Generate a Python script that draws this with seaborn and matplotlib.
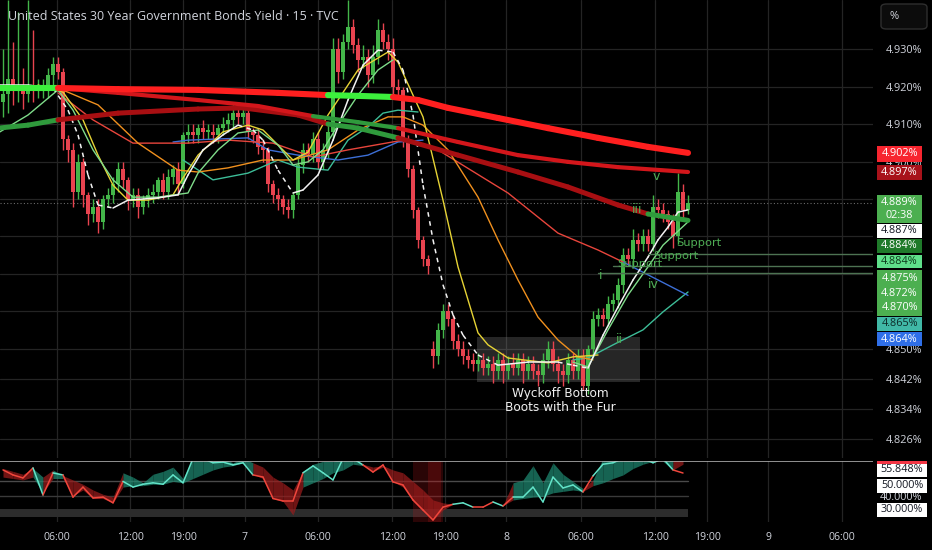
import numpy as np
import matplotlib
matplotlib.use("Agg")
import matplotlib.pyplot as plt
import seaborn as sns
from matplotlib.patches import Rectangle, FancyBboxPatch

W, H = 932, 550

title = "United States 30 Year Government Bonds Yield · 15 · TVC"

# --- 15 min candles (bar index 0..137), yield in % ---
first_open = 4.916
closes = [
    4.918, 4.922, 4.919, 4.920, 4.918, 4.920, 4.919, 4.919, 4.920, 4.923, 4.926, 4.924,
    4.906, 4.903, 4.892, 4.900, 4.891, 4.886, 4.888, 4.884, 4.890, 4.891, 4.894, 4.898,
    4.895, 4.890, 4.891, 4.888, 4.890, 4.891, 4.892, 4.895, 4.892, 4.896, 4.898, 4.894,
    4.907, 4.908, 4.907, 4.909, 4.908, 4.908, 4.907, 4.909, 4.910, 4.911, 4.913, 4.912,
    4.913, 4.908, 4.907, 4.904, 4.903, 4.894, 4.891, 4.890, 4.888, 4.887, 4.891, 4.899,
    4.903, 4.902, 4.906, 4.900, 4.903, 4.908, 4.930, 4.924, 4.932, 4.936, 4.931, 4.927,
    4.928, 4.923, 4.928, 4.935, 4.932, 4.930, 4.920, 4.919, 4.906, 4.898, 4.887, 4.879,
    4.874, 4.872, 4.848, 4.855, 4.860, 4.858, 4.852, 4.850, 4.848, 4.847, 4.846, 4.847,
    4.845, 4.846, 4.844, 4.847, 4.844, 4.846, 4.845, 4.847, 4.844, 4.846, 4.844, 4.843,
    4.847, 4.850, 4.846, 4.844, 4.843, 4.847, 4.844, 4.848, 4.840, 4.850, 4.858, 4.859,
    4.858, 4.862, 4.863, 4.867, 4.875, 4.874, 4.879, 4.878, 4.880, 4.878, 4.888, 4.887,
    4.886, 4.884, 4.880, 4.892, 4.887, 4.889,
]
# wick lengths above / below the body, in thousandths of a percent
wick_up = [
    12, 21, 10, 20, 5, 23, 15, 3, 2, 2, 2, 2,
    1, 1, 2, 2, 1, 1, 2, 2, 1, 2, 2, 2,
    2, 1, 2, 2, 1, 2, 2, 1, 2, 2, 1, 2,
    1, 2, 2, 1, 2, 2, 2, 1, 2, 2, 2, 3,
    2, 2, 1, 2, 2, 1, 1, 2, 1, 2, 1, 2,
    2, 2, 2, 2, 2, 2, 3, 3, 2, 7, 2, 2,
    3, 2, 3, 3, 2, 2, 3, 2, 1, 1, 1, 1,
    1, 1, 2, 2, 2, 2, 1, 2, 2, 2, 2, 2,
    2, 2, 2, 2, 2, 2, 3, 2, 2, 2, 2, 2,
    2, 2, 2, 2, 2, 2, 2, 2, 2, 1, 2, 2,
    2, 2, 2, 2, 2, 2, 3, 2, 2, 2, 3, 2,
    2, 1, 2, 5, 2, 2,
]
wick_dn = [
    4, 5, 4, 3, 4, 2, 3, 2, 2, 3, 3, 2,
    3, 3, 4, 2, 3, 3, 2, 3, 2, 2, 2, 2,
    2, 3, 2, 3, 2, 2, 2, 2, 2, 2, 2, 3,
    1, 2, 2, 2, 2, 2, 2, 2, 2, 2, 2, 2,
    2, 2, 2, 2, 3, 2, 2, 3, 2, 2, 2, 1,
    2, 2, 2, 2, 2, 2, 2, 3, 2, 2, 2, 3,
    2, 3, 2, 2, 2, 3, 3, 2, 2, 2, 2, 2,
    2, 2, 3, 2, 2, 2, 2, 2, 2, 2, 2, 2,
    2, 2, 3, 2, 3, 2, 2, 2, 3, 2, 2, 3,
    2, 2, 2, 3, 3, 2, 2, 2, 1, 2, 2, 2,
    2, 2, 2, 2, 2, 2, 2, 2, 2, 2, 2, 2,
    2, 2, 3, 2, 2, 1,
]
gap_opens = {86: 4.850}

# --- moving averages (bar index, value) ---
ma1_bar = [-1, 11, 23, 39, 55, 65, 71, 78, 83, 89, 99, 109, 119, 129, 137]
ma1_val = [4.9196, 4.9196, 4.9193, 4.9191, 4.9183, 4.9177, 4.9175, 4.9172, 4.9164,
           4.9143, 4.9116, 4.9089, 4.9063, 4.9039, 4.9023]
ma1_up = [1, 0, 0, 0, 0, 1, 1, 0, 0, 0, 0, 0, 0, 0]

maA_bar = [11, 23, 39, 51, 62, 71, 79, 91, 103, 113, 123, 137]
maA_val = [4.9196, 4.9183, 4.9164, 4.9148, 4.9121, 4.9105, 4.9089, 4.9052, 4.9017,
           4.8999, 4.8985, 4.8972]
maA_up = [0, 0, 0, 0, 1, 1, 0, 0, 0, 0, 0]

maB_bar = [-1, 5, 11, 23, 39, 48, 59, 65, 71, 79, 91, 103, 113, 123, 129, 137]
maB_val = [4.9089, 4.9097, 4.9111, 4.9129, 4.9140, 4.9143, 4.9124, 4.9100, 4.9089,
           4.9063, 4.9017, 4.8972, 4.8932, 4.8884, 4.8860, 4.8843]
maB_up = [1, 1, 0, 0, 0, 0, 0, 1, 1, 0, 0, 0, 0, 0, 1]

red_bar = [11, 18, 26, 37, 45, 54, 62, 69, 80, 87, 101, 111, 119, 124]
red_val = [4.9183, 4.9111, 4.9049, 4.9049, 4.9057, 4.9049, 4.9012, 4.9031, 4.9057,
           4.9031, 4.8916, 4.8809, 4.8764, 4.8732]

blue_bar = [34, 37, 49, 53, 59, 67, 73, 79, 84]
blue_val = [4.9052, 4.9057, 4.9063, 4.9031, 4.9017, 4.9004, 4.9017, 4.9052, 4.9057]
blue2_bar = [124, 137]
blue2_val = [4.8732, 4.8643]

orange_bar = [11, 19, 27, 35, 39, 45, 52, 58, 65, 71, 77, 80, 84, 89, 95, 99, 103,
              107, 111, 115, 118]
orange_val = [4.9196, 4.9151, 4.9049, 4.8977, 4.8972, 4.8983, 4.9004, 4.9004, 4.9031,
              4.9084, 4.9119, 4.9119, 4.9097, 4.9031, 4.8905, 4.8791, 4.8684, 4.8585,
              4.8524, 4.8479, 4.8471]

yellow_bar = [7, 12, 16, 19, 22, 25, 29, 34, 36, 39, 44, 49, 52, 55, 58, 61, 65, 71,
              77, 79, 82, 84, 88, 91, 95, 97, 101, 109, 114, 119]
yellow_val = [4.9204, 4.9185, 4.9111, 4.9017, 4.8937, 4.8897, 4.8897, 4.8911, 4.8956,
              4.9017, 4.9079, 4.9097, 4.9084, 4.9044, 4.9004, 4.9025, 4.9124, 4.9244,
              4.9292, 4.9265, 4.9177, 4.9119, 4.8897, 4.8719, 4.8543, 4.8511, 4.8476,
              4.8463, 4.8479, 4.8484]

white_bar = [-1, 5, 10, 13, 15, 17, 19, 22, 25, 31, 35, 37, 40, 44, 47, 50, 52, 55,
             58, 60, 63, 66, 69, 72, 75, 78, 80, 82, 84, 86, 88, 90, 92, 95, 99, 105,
             111, 114, 117, 120, 123, 126, 129, 131, 133, 135, 137]
white_val = [4.9204, 4.9204, 4.9196, 4.9137, 4.9071, 4.8964, 4.8884, 4.8876, 4.8897,
             4.8903, 4.8911, 4.8964, 4.9031, 4.9071, 4.9097, 4.9084, 4.9057, 4.8977,
             4.8916, 4.8924, 4.8964, 4.9057, 4.9164, 4.9257, 4.9297, 4.9292, 4.9244,
             4.9124, 4.8937, 4.8791, 4.8671, 4.8591, 4.8537, 4.8484, 4.8457, 4.8465,
             4.8465, 4.8457, 4.8449, 4.8537, 4.8612, 4.8684, 4.8745, 4.8791, 4.8825,
             4.8865, 4.8871]

lime_bar = [-1, 5, 11, 14, 18, 22, 26, 31, 37, 39, 43, 47, 51, 55, 58, 61, 64, 67,
            71, 75, 78]
lime_val = [4.9076, 4.9124, 4.9191, 4.9137, 4.9031, 4.8951, 4.8905, 4.8905, 4.8916,
            4.8969, 4.9031, 4.9076, 4.9084, 4.9044, 4.8991, 4.8999, 4.9031, 4.9097,
            4.9177, 4.9244, 4.9271]
lime2_bar = [114, 117, 121, 125, 129, 132, 137]
lime2_val = [4.8465, 4.8452, 4.8551, 4.8644, 4.8719, 4.8777, 4.8839]

teal_bar = [36, 42, 49, 55, 59, 65, 69, 73, 76, 79, 83]
teal_val = [4.9004, 4.8951, 4.8969, 4.9004, 4.8985, 4.8977, 4.9057, 4.9092, 4.9129,
            4.9137, 4.9132]
teal2_bar = [114, 117, 122, 128, 132, 137]
teal2_val = [4.8471, 4.8476, 4.8511, 4.8551, 4.8599, 4.8652]

support_start = [129, 122, 119]
support_val = [4.8753, 4.8722, 4.8702]

# --- oscillator (every 2nd bar) ---
osc_bar = list(range(0, 138, 2))
osc_val = [58, 54.5, 52.4, 59.4, 40.5, 55.9, 54.5, 39, 46, 38.4,
           39, 35, 50, 46, 48, 49, 48, 54.5, 49, 66,
           66, 63, 63.5, 61.5, 63, 54.5, 53, 38, 36.3, 36.3,
           56, 60.8, 56, 51, 66, 66, 61.5, 56.5, 61.5, 49.6,
           47.5, 37, 30, 23, 32, 34, 35, 32, 32, 35.6,
           32.8, 39, 39, 46, 35.6, 53, 45.4, 47.5, 42.6, 53.8,
           62, 63, 66, 66, 66, 63, 66, 58, 55.848]
band_hi = [59, 57, 55, 59, 53, 58, 54, 51, 48, 44,
           41, 39, 56, 53, 49, 55, 57, 60, 52, 66,
           66, 66, 66, 63, 66, 63, 60, 53, 49, 44,
           57, 62, 64, 64, 66, 66, 62, 60, 61, 58,
           56, 50, 44, 37, 35, 34, 35, 32, 32, 35.6,
           33, 49, 51, 61, 49, 63, 55, 50, 45, 51,
           66, 66, 66, 66, 66, 66, 66, 66, 66]
band_lo = [53, 52, 51, 53, 42, 52, 52, 40, 44, 38,
           38, 35, 46, 47, 47, 48, 48, 50, 49, 52,
           55, 58, 60, 61, 63, 55, 52, 38, 36, 26.5,
           46, 49, 52, 56, 58, 62, 61, 57, 60, 50,
           46, 36, 29, 23, 30, 34, 35, 32, 32, 35.6,
           33, 37, 38, 39, 39.5, 42, 43, 44, 43, 47,
           49, 52, 54.5, 59, 62, 64, 64, 58, 62]
osc_state = "rrrgrgrrrrrr" "gggggggggggg" "grrrrrgggggg" "rrrrrrrrrggr" "rgrgggggggrg" "gggggggrr"

xtick_bar = [10.8, 25.4, 36, 48.4, 63, 77.8, 88.4, 100.6, 115.6, 130.4, 140.8, 153, 167.8]
xtick_lab = ["06:00", "12:00", "19:00", "7", "06:00", "12:00", "19:00", "8",
             "06:00", "12:00", "19:00", "9", "06:00"]
ytick_val = [4.826, 4.834, 4.842, 4.85, 4.86, 4.87, 4.88, 4.89, 4.90, 4.91, 4.92, 4.93]
ytick_hidden = [4.86, 4.87, 4.88, 4.89]   # covered by the price tags

# ---------------------------------------------------------------------------
sns.set_theme(style="dark", rc={
    "axes.facecolor": "#000000", "figure.facecolor": "#000000",
    "axes.edgecolor": "#000000", "grid.color": "#242424", "grid.linewidth": 0.9,
})
plt.rcParams["font.family"] = ["Open Sans", "DejaVu Sans"]

TXT = "#d1d4dc"
UP, DN = "#43b649", "#e8434f"

fig = plt.figure(figsize=(W / 100, H / 100), dpi=100)
ax = fig.add_axes([0, 1 - 458 / H, 873 / W, 458 / H])
osc = fig.add_axes([0, 1 - 522 / H, 873 / W, 61.5 / H])

for a in (ax, osc):
    a.set_xlim(-0.6, 174)
    for s in a.spines.values():
        s.set_visible(False)
    a.set_xticks(xtick_bar)
    a.grid(True, axis="x", color="#242424", lw=0.9)
    a.set_axisbelow(True)

ax.set_ylim(4.82093, 4.94307)
ax.set_yticks(ytick_val)
ax.set_yticklabels(["" if v in ytick_hidden else f"{v:.3f}%" for v in ytick_val])
ax.yaxis.tick_right()
ax.tick_params(axis="y", length=0, pad=9, labelcolor=TXT, labelsize=7.8)
ax.tick_params(axis="x", length=0, labelbottom=False)
ax.grid(True, axis="y", color="#242424", lw=0.9)

# candles
c = np.array(closes)
bars = np.arange(len(c))
o = np.r_[first_open, c[:-1]]
for k, v in gap_opens.items():
    o[k] = v
col = np.where(c >= o, UP, DN)
hi = np.maximum(o, c) + np.array(wick_up) / 1000
lo = np.minimum(o, c) - np.array(wick_dn) / 1000
body = c - o
body[np.abs(body) < 0.0003] = 0.0003
ax.vlines(bars, lo, hi, colors=col, lw=1, zorder=2)
ax.bar(bars, body, bottom=o, width=0.62, color=col, lw=0, zorder=2)

# last price dotted line
ax.axhline(closes[-1], color="#6a6a6a", lw=0.8, ls=(0, (1, 2)), zorder=1)


def two_tone(xs, ys, flags, lw, c_dn, c_up):
    for k in range(len(xs) - 1):
        ax.plot(xs[k:k + 2], ys[k:k + 2], color=c_up if flags[k] else c_dn,
                lw=lw, solid_capstyle="round", zorder=4)


def line(xs, ys, color, lw=1.0, z=3):
    sns.lineplot(x=xs, y=ys, ax=ax, color=color, lw=lw, zorder=z, legend=False)


line(teal_bar, teal_val, "#3dbd98")
line(teal2_bar, teal2_val, "#3dbd98")
line(blue_bar, blue_val, "#3d6fd6")
line(blue2_bar, blue2_val, "#3d6fd6")
line(red_bar, red_val, "#e8453c")
line(orange_bar, orange_val, "#f0901e")
line(yellow_bar, yellow_val, "#e6d335")
line(lime_bar, lime_val, "#7fdc8a")
line(lime2_bar, lime2_val, "#7fdc8a")

# white line: dashed while falling, solid while rising
for k in range(len(white_bar) - 1):
    falling = white_val[k + 1] < white_val[k]
    ax.plot(white_bar[k:k + 2], white_val[k:k + 2], color="#f2f2f2", lw=1.1,
            ls=(0, (3, 3)) if falling else "-", zorder=3)

two_tone(maB_bar, maB_val, maB_up, 3.6, "#a80f12", "#2f9a3c")
two_tone(maA_bar, maA_val, maA_up, 3.0, "#d3161b", "#2f9a3c")
two_tone(ma1_bar, ma1_val, ma1_up, 4.4, "#ff1f1f", "#3cf03c")

# support lines and labels
for s0, v in zip(support_start, support_val):
    ax.plot([s0, 174], [v, v], color="#4d7352", lw=1, zorder=3)
GR = "#4fae55"
for bx, by in [(134.6, 4.8783), (130.0, 4.8748), (122.8, 4.8727)]:
    ax.text(bx, by, "Support", color=GR, fontsize=8.2, va="center", ha="left",
            family="DejaVu Sans", zorder=6)
for txt, bx, by in [("v", 130.6, 4.8961), ("iii", 126.8, 4.8871), ("i", 119.6, 4.8697),
                    ("iv", 130.0, 4.8671), ("ii", 123.2, 4.8524)]:
    ax.text(bx, by, txt, color=GR, fontsize=9, va="center", ha="center",
            family="DejaVu Sans", zorder=6)

# Wyckoff box
ax.add_patch(Rectangle((94.8, 4.8412), 32.6, 0.0120, facecolor="#8a8a8a", alpha=0.28,
                       lw=0, zorder=1.5))
ax.text(111.4, 4.8380, "Wyckoff Bottom", color="#f0f0f0", fontsize=8.7, ha="center",
        va="center", family="DejaVu Sans", zorder=6)
ax.text(111.4, 4.8345, "Boots with the Fur", color="#f0f0f0", fontsize=8.7,
        ha="center", va="center", family="DejaVu Sans", zorder=6)

# --- oscillator pane ---
osc.set_ylim(21.6, 64.6)
osc.set_yticks([])
osc.set_xticklabels(xtick_lab)
osc.tick_params(axis="x", length=0, pad=7, labelcolor=TXT, labelsize=7.6)
osc.fill_between([-1, 137], 25, 31, color="#2c2c2c", lw=0, zorder=1)
osc.plot([-1, 137], [50, 50], color="#4a4a4a", lw=1, zorder=1)
osc.plot([-1, 137], [40, 40], color="#3a3a3a", lw=1, zorder=1)
osc.axhline(64.5, color="#b8b8b8", lw=1.1, zorder=5)
osc.axvspan(82, 88, color="#c0181c", alpha=0.22, lw=0, zorder=1)
osc.axvspan(85, 87.5, color="#c0181c", alpha=0.22, lw=0, zorder=1)
for k in range(len(osc_bar) - 1):
    g = osc_state[k] == "g"
    osc.fill_between(osc_bar[k:k + 2], band_lo[k:k + 2], band_hi[k:k + 2],
                     color="#1f8a72" if g else "#9c1c1c", alpha=0.72, lw=0, zorder=2)
    osc.plot(osc_bar[k:k + 2], osc_val[k:k + 2], color="#62e3c8" if g else "#f0463c",
             lw=1.1, zorder=3)

# --- right price scale tags ---
def tag(y0, y1, face, text, tcolor, x0=877, x1=922, ls=1.2, fs=7.8):
    fig.patches.append(Rectangle((x0 / W, 1 - y1 / H), (x1 - x0) / W, (y1 - y0) / H,
                                 transform=fig.transFigure, facecolor=face,
                                 edgecolor="none", zorder=5))
    fig.text((x0 + x1) / 2 / W, 1 - (y0 + y1) / 2 / H, text, ha="center", va="center",
             color=tcolor, fontsize=fs, linespacing=ls, zorder=6)


tag(146, 162, "#f7252f", f"{ma1_val[-1]:.3f}%", "white")
tag(165, 180, "#a8121a", f"{maA_val[-1]:.3f}%", "white")
tag(195, 223, "#4caf50", f"{closes[-1]:.3f}%\n02:38", "white", ls=1.2)
tag(224, 238, "#ffffff", f"{white_val[-1]:.3f}%", "#131722")
tag(239, 253, "#1f7a2a", f"{maB_val[-1]:.3f}%", "white")
tag(255, 268, "#5fe08a", f"{lime2_val[-1]:.3f}%", "#0d3b1a")
tag(270, 316, "#4caf50", "\n".join(f"{v:.3f}%" for v in support_val), "white", ls=1.42)
tag(317, 331, "#40b8a6", f"{teal2_val[-1]:.3f}%", "#0d2b28")
tag(332, 346, "#2f6fe8", f"{blue2_val[-1]:.3f}%", "white")

fig.text(901 / W, 1 - 497 / H, "40.000%", ha="center", va="center", color=TXT, fontsize=7.8)
tag(461, 477, "#ffffff", f"{osc_val[-1]:.3f}%", "#131722", x1=927)
fig.patches.append(Rectangle((877 / W, 1 - 464 / H), 50 / W, 3.5 / H,
                             transform=fig.transFigure, facecolor="#f23645",
                             edgecolor="none", zorder=5.5))
tag(479, 493, "#ffffff", "50.000%", "#131722", x1=927)
tag(503, 517, "#ffffff", "30.000%", "#131722", x1=927)

# % button
fig.patches.append(FancyBboxPatch((881 / W, 1 - 29 / H), 46 / W, 25 / H,
                                  boxstyle="round,pad=0,rounding_size=0.006",
                                  transform=fig.transFigure, facecolor="#0c0c0c",
                                  edgecolor="#2e2e2e", lw=1, zorder=5))
fig.text(889 / W, 1 - 16.5 / H, "%", ha="left", va="center", color=TXT, fontsize=8, zorder=6)

fig.text(8 / W, 1 - 17 / H, title, ha="left", va="center", color=TXT, fontsize=9)

fig.savefig("out.png", dpi=100, facecolor="#000000")
